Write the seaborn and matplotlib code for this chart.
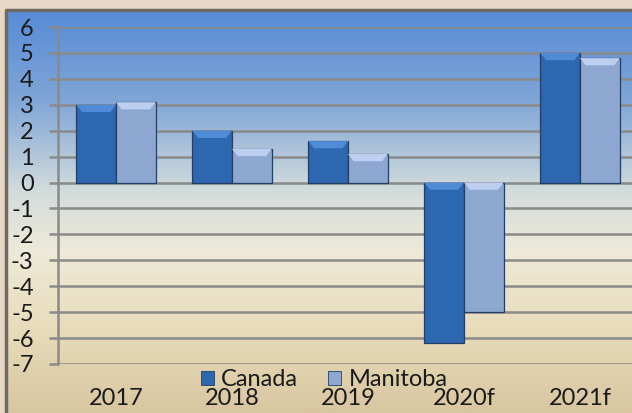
import numpy as np
import pandas as pd
import matplotlib.pyplot as plt
from matplotlib.colors import LinearSegmentedColormap, to_rgb
from matplotlib.patches import Patch, Polygon
import seaborn as sns

# data
years = ["2017", "2018", "2019", "2020f", "2021f"]
canada = [3.0, 2.0, 1.6, -6.2, 5.0]
manitoba = [3.1, 1.3, 1.1, -5.0, 4.8]
regions = ["Canada", "Manitoba"]
yticks = list(range(-7, 7))

df = pd.DataFrame({
    "year": years * 2,
    "region": ["Canada"] * len(years) + ["Manitoba"] * len(years),
    "growth": canada + manitoba,
})

sns.set_theme(style="white")
plt.rcParams["font.family"] = ["Lato", "DejaVu Sans"]
plt.rcParams["axes.unicode_minus"] = False

W, H = 632, 413
fig = plt.figure(figsize=(W / 100, H / 100), dpi=100)
fig.patch.set_facecolor("#e8d8c6")

# gradient panel behind the chart
bg = fig.add_axes([6 / W, 0, 1 - 6 / W, 1 - 10 / H])
bg.axis("off")
cmap = LinearSegmentedColormap.from_list("panel", [
    (0.0, "#578cd6"), (0.22, "#7fa5d7"), (0.45, "#d3dcdc"),
    (0.6, "#eeead8"), (0.8, "#e8dbba"), (1.0, "#d8c6a0")])
grad = np.linspace(0, 1, 256).reshape(-1, 1)
bg.imshow(grad, aspect="auto", cmap=cmap, extent=[0, 1, 0, 1])
bg.plot([0, 0, 1], [0, 1, 1], color="#6f6a62", lw=2.5, transform=bg.transAxes, clip_on=False)

ax = fig.add_axes([58 / W, 49 / H, 580 / W, 337 / H])
ax.set_facecolor("none")

colors = ["#2c67b0", "#8ea7d0"]
highlights = ["#4f8bd6", "#bccff0"]
sns.barplot(data=df, x="year", y="growth", hue="region", hue_order=regions,
            palette=colors, saturation=1, width=0.685, gap=0,
            edgecolor="#233f66", linewidth=0.9, legend=False, ax=ax)

# bevel-like light strip on the top face of each bar
for p in list(ax.patches):
    fc = p.get_facecolor()[:3]
    hl = highlights[0] if np.allclose(fc, to_rgb(colors[0]), atol=0.02) else highlights[1]
    x0, w = p.get_x(), p.get_width()
    top = max(p.get_y(), p.get_y() + p.get_height())
    b, d = 0.28, 0.05
    ax.add_patch(Polygon([(x0, top), (x0 + w, top), (x0 + w - d, top - b), (x0 + d, top - b)],
                         closed=True, facecolor=hl, edgecolor="none", zorder=p.get_zorder() + 0.1))

ax.set_xlim(-0.5, 4.5)
ax.set_ylim(-7, 6)
ax.set_yticks(yticks)
ax.yaxis.grid(True, color="#8a8a8a", lw=1.8)
ax.set_axisbelow(True)
for side in ["top", "right", "bottom"]:
    ax.spines[side].set_visible(False)
ax.spines["left"].set_color("#8a8a8a")
ax.spines["left"].set_linewidth(1.8)
ax.set_xlabel("")
ax.set_ylabel("")
ax.tick_params(axis="x", length=0, pad=17, labelsize=17, labelcolor="#1a1a1a")
ax.tick_params(axis="y", length=6.5, width=1.8, color="#8a8a8a", pad=11,
               labelsize=17, labelcolor="#1a1a1a", left=True)

handles = [Patch(facecolor=c, edgecolor="#233f66", lw=0.6) for c in colors]
fig.legend(handles, regions, loc="center", bbox_to_anchor=(324 / W, 1 - 380 / H),
           ncol=2, frameon=False, fontsize=17, handlelength=0.55, handleheight=0.55,
           handletextpad=0.3, columnspacing=1.3, labelcolor="#1a1a1a")

fig.savefig("out.png", dpi=100, facecolor=fig.get_facecolor())
